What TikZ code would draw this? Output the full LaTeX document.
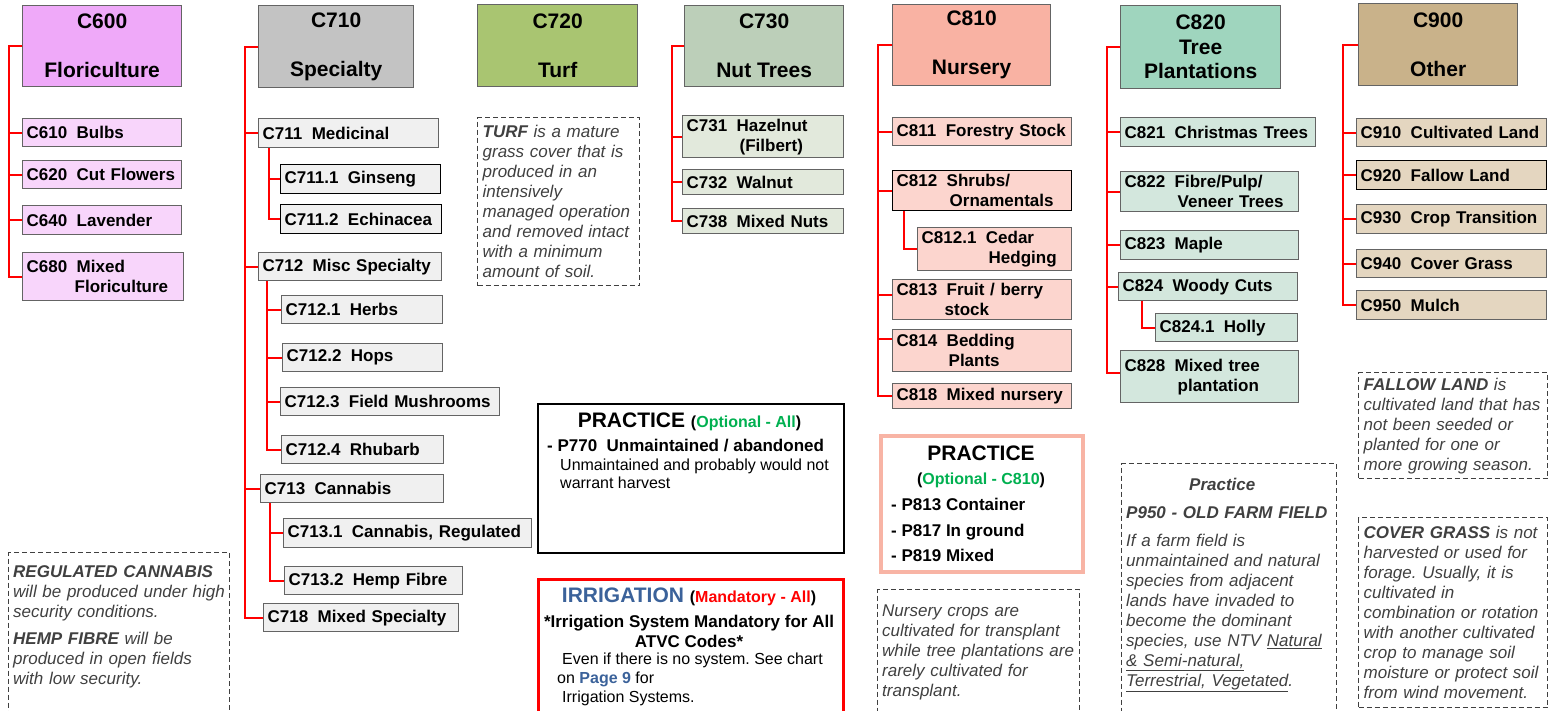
\documentclass[tikz,border=0pt]{standalone}
\usepackage{fontspec}
\setmainfont{Liberation Sans}
\usepackage{tikz}
\usetikzlibrary{calc}
\frenchspacing

\definecolor{hdA}{RGB}{239,169,249}
\definecolor{sbA}{RGB}{248,213,251}
\definecolor{hdB}{RGB}{195,195,195}
\definecolor{sbB}{RGB}{240,240,240}
\definecolor{hdC}{RGB}{169,197,113}
\definecolor{hdD}{RGB}{188,207,185}
\definecolor{sbD}{RGB}{226,233,220}
\definecolor{hdE}{RGB}{249,178,163}
\definecolor{sbE}{RGB}{252,213,206}
\definecolor{hdF}{RGB}{159,213,190}
\definecolor{sbF}{RGB}{211,231,221}
\definecolor{hdG}{RGB}{201,178,138}
\definecolor{sbG}{RGB}{228,214,192}
\definecolor{optgreen}{RGB}{0,176,80}
\definecolor{irrblue}{RGB}{59,98,154}
\definecolor{notegray}{RGB}{64,64,64}
\definecolor{boxgray}{RGB}{100,100,100}
\definecolor{salmon}{RGB}{248,180,165}

\newcommand{\hdf}{\fontsize{21}{24.5}\selectfont\bfseries}
\newcommand{\lbf}{\fontsize{17}{20}\selectfont\bfseries}
\newcommand{\ntf}{\fontsize{17}{20}\selectfont\itshape}
\newcommand{\smf}{\fontsize{16}{19}\selectfont}
\newcommand{\gp}{\hspace{0.556em}}

\begin{document}
\begin{tikzpicture}[x=1pt,y=-1pt,
  hdr/.style={draw=boxgray,line width=1.3pt,anchor=north west,align=center,font=\hdf,inner sep=0pt},
  sub/.style={draw=boxgray,line width=1.3pt,anchor=north west,align=left,font=\lbf,inner xsep=4pt,inner ysep=0pt},
  link/.style={draw=red,line width=2pt},
  dbox/.style={draw=notegray,dash pattern=on 5pt off 3pt,line width=1.3pt,anchor=north west,inner sep=0pt},
  note/.style={dbox,align=left,font=\ntf,text=notegray,inner xsep=5pt,inner ysep=0pt},
  ntxt/.style={inner sep=0pt,anchor=north west,align=left,font=\ntf,text=notegray},
  panel/.style={anchor=north west,inner sep=0pt},
  txt/.style={inner sep=0pt,anchor=base},
  txtl/.style={inner sep=0pt,anchor=base west}]

  \useasboundingbox (0,0) rectangle (1552,711);

  \node[hdr,fill=hdA,minimum width=159,minimum height=81] (c600) at (22,5) {C600\\[24.5pt]Floriculture};
  \node[sub,fill=sbA,text width=151pt,minimum height=28] (c610) at (22,118) {C610\gp Bulbs};
  \node[sub,fill=sbA,text width=151pt,minimum height=28] (c620) at (22,160) {C620\gp Cut Flowers};
  \node[sub,fill=sbA,text width=151pt,minimum height=29] (c640) at (22,205) {C640\gp Lavender};
  \node[sub,fill=sbA,text width=153pt,minimum height=48] (c680) at (22,252) {C680\gp Mixed\\\hspace*{48pt}Floriculture};

  \node[hdr,fill=hdB,minimum width=155,minimum height=82] (c710) at (258,5) {C710\\[24.5pt]Specialty};
  \node[sub,fill=sbB,text width=172pt,minimum height=29] (c711) at (258,118) {C711\gp Medicinal};
  \node[sub,fill=sbB,draw=black,text width=152pt,minimum height=29] (c7111) at (280,164) {C711.1\gp Ginseng};
  \node[sub,fill=sbB,draw=black,text width=153pt,minimum height=29] (c7112) at (280,204) {C711.2\gp Echinacea};
  \node[sub,fill=sbB,text width=175pt,minimum height=28] (c712) at (258,252) {C712\gp Misc Specialty};
  \node[sub,fill=sbB,text width=153pt,minimum height=28] (c7121) at (281,295) {C712.1\gp Herbs};
  \node[sub,fill=sbB,text width=152pt,minimum height=28] (c7122) at (282,343) {C712.2\gp Hops};
  \node[sub,fill=sbB,text width=211pt,minimum height=28] (c7123) at (280,387) {C712.3\gp Field Mushrooms};
  \node[sub,fill=sbB,text width=154pt,minimum height=28] (c7124) at (281,435) {C712.4\gp Rhubarb};
  \node[sub,fill=sbB,text width=175pt,minimum height=28] (c713) at (260,474) {C713\gp Cannabis};
  \node[sub,fill=sbB,text width=240pt,minimum height=29] (c7131) at (283,518) {C713.1\gp Cannabis, Regulated};
  \node[sub,fill=sbB,text width=170pt,minimum height=28] (c7132) at (284,566) {C713.2\gp Hemp Fibre};
  \node[sub,fill=sbB,text width=187pt,minimum height=28] (c718) at (263,603) {C718\gp Mixed Specialty};

  \node[hdr,fill=hdC,minimum width=160,minimum height=82] (c720) at (477,4) {C720\\[24.5pt]Turf};
  \node[note,text width=152pt,minimum height=168] (turf) at (477,117)
    {\textbf{TURF} is a mature\\grass cover that is\\produced in an\\intensively\\managed operation\\and removed intact\\with a minimum\\amount of soil.};

  \node[hdr,fill=hdD,minimum width=159,minimum height=81] (c730) at (684,5) {C730\\[24.5pt]Nut Trees};
  \node[sub,fill=sbD,text width=153pt,minimum height=42] (c731) at (682,115) {C731\gp Hazelnut\\\hspace*{53pt}(Filbert)};
  \node[sub,fill=sbD,text width=153pt,minimum height=25] (c732) at (682,169) {C732\gp Walnut};
  \node[sub,fill=sbD,text width=153pt,minimum height=25] (c738) at (682,208) {C738\gp Mixed Nuts};

  \node[hdr,fill=hdE,minimum width=158,minimum height=81] (c810) at (892,4) {C810\\[24.5pt]Nursery};
  \node[sub,fill=sbE,text width=171pt,minimum height=28] (c811) at (892,117) {C811\gp Forestry Stock};
  \node[sub,fill=sbE,draw=black,text width=171pt,minimum height=40] (c812) at (892,170) {C812\gp Shrubs/\\\hspace*{53pt}Ornamentals};
  \node[sub,fill=sbE,text width=146pt,minimum height=43] (c8121) at (917,227) {C812.1\gp Cedar\\\hspace*{67pt}Hedging};
  \node[sub,fill=sbE,text width=171pt,minimum height=40] (c813) at (892,279) {C813\gp Fruit / berry\\\hspace*{48pt}stock};
  \node[sub,fill=sbE,text width=171pt,minimum height=42] (c814) at (892,329) {C814\gp Bedding\\\hspace*{52pt}Plants};
  \node[sub,fill=sbE,text width=171pt,minimum height=25] (c818) at (892,383) {C818\gp Mixed nursery};

  \node[hdr,fill=hdF,minimum width=160,minimum height=83] (c820) at (1120,5) {C820\\Tree\\Plantations};
  \node[sub,fill=sbF,text width=187pt,minimum height=29] (c821) at (1120,117) {C821\gp Christmas Trees};
  \node[sub,fill=sbF,text width=170pt,minimum height=40] (c822) at (1120,171) {C822\gp Fibre/Pulp/\\\hspace*{53pt}Veneer Trees};
  \node[sub,fill=sbF,text width=170pt,minimum height=29] (c823) at (1120,230) {C823\gp Maple};
  \node[sub,fill=sbF,text width=171pt,minimum height=28] (c824) at (1118,272) {C824\gp Woody Cuts};
  \node[sub,fill=sbF,text width=134pt,minimum height=28] (c8241) at (1155,313) {C824.1\gp Holly};
  \node[sub,fill=sbF,text width=170pt,minimum height=52] (c828) at (1120,350) {C828\gp Mixed tree\\\hspace*{53pt}plantation};

  \node[hdr,fill=hdG,minimum width=159,minimum height=82] (c900) at (1358,3) {C900\\[24.5pt]Other};
  \node[sub,fill=sbG,text width=182pt,minimum height=28] (c910) at (1356,118) {C910\gp Cultivated Land};
  \node[sub,fill=sbG,draw=black,text width=182pt,minimum height=29] (c920) at (1356,160) {C920\gp Fallow Land};
  \node[sub,fill=sbG,text width=182pt,minimum height=29] (c930) at (1356,204) {C930\gp Crop Transition};
  \node[sub,fill=sbG,text width=182pt,minimum height=28] (c940) at (1356,249) {C940\gp Cover Grass};
  \node[sub,fill=sbG,text width=182pt,minimum height=29] (c950) at (1356,290) {C950\gp Mulch};

  \foreach \c in {c610,c620,c640,c680}
    \draw[link] (c600.west) -- ++(-13,0) |- (\c.west);
  \foreach \c in {c711,c712,c713,c718}
    \draw[link] (c710.west) -- ++(-13,0) |- (\c.west);
  \foreach \c in {c7111,c7112}
    \draw[link] ([xshift=11pt]c711.south west) |- (\c.west);
  \foreach \c in {c7121,c7122,c7123,c7124}
    \draw[link] ([xshift=9pt]c712.south west) |- (\c.west);
  \foreach \c in {c7131,c7132}
    \draw[link] ([xshift=10pt]c713.south west) |- (\c.west);
  \foreach \c in {c731,c732,c738}
    \draw[link] (c730.west) -- ++(-12,0) |- (\c.west);
  \foreach \c in {c811,c812,c818}
    \draw[link] (c810.west) -- ++(-14,0) |- (\c.west);
  \draw[link] (c810.west) -- ++(-14,0) |- ([yshift=5pt]c813.west);
  \draw[link] (c810.west) -- ++(-14,0) |- ([yshift=12pt]c814.west);
  \draw[link] ([xshift=12pt]c812.south west) |- (c8121.west);
  \foreach \c in {c821,c822,c823,c824}
    \draw[link] (c820.west) -- ++(-13,0) |- (\c.west);
  \draw[link] (c820.west) -- ++(-13,0) |- ([yshift=4pt]c828.west);
  \draw[link] ([xshift=24pt]c824.south west) |- (c8241.west);
  \foreach \c in {c910,c920,c930,c940,c950}
    \draw[link] (c900.west) -- ++(-15,0) |- (\c.west);

  \node[dbox,minimum width=221,minimum height=200] (regbox) at (8,552) {};
  \node[ntxt,text width=230pt] (regtxt) at (13,565)
    {\textbf{REGULATED CANNABIS}\\will be produced under high\\security conditions.\\[7pt]\textbf{HEMP FIBRE} will be\\produced in open fields\\with low security.};

  \node[panel,draw=black,line width=2pt,minimum width=306,minimum height=149] (prac) at (537,403) {};
  \node[txt,font=\hdf] (pracH) at (689.5,427) {PRACTICE {\smf\bfseries(\textcolor{optgreen}{Optional - All})}};
  \node[txtl,font=\lbf] (pracA) at (547,451) {- P770\gp Unmaintained / abandoned};
  \node[txtl,font=\smf] (pracB) at (560,470) {Unmaintained and probably would not};
  \node[txtl,font=\smf] (pracC) at (560,488) {warrant harvest};

  \node[panel,draw=red,line width=3pt,minimum width=305,minimum height=150] (irr) at (536.5,577.5) {};
  \node[txt,font=\hdf] (irrH) at (689,602) {\textcolor{irrblue}{IRRIGATION} {\smf\bfseries(\textcolor{red}{Mandatory - All})}};
  \node[txt,font=\lbf] (irrA) at (689,627) {*Irrigation System Mandatory for All};
  \node[txt,font=\lbf] (irrB) at (689,647) {ATVC Codes*};
  \node[txtl,font=\smf] (irrC) at (562,664) {Even if there is no system. See chart};
  \node[txtl,font=\smf] (irrD) at (557,683) {on \textcolor{irrblue}{\bfseries Page 9} for};
  \node[txtl,font=\smf] (irrE) at (562,702) {Irrigation Systems.};

  \node[panel,draw=salmon,line width=4pt,minimum width=202,minimum height=136] (p810) at (879,434) {};
  \node[txt,font=\hdf] (p810H) at (981,460) {PRACTICE};
  \node[txt,font=\smf\bfseries] (p810S) at (981,484) {(\textcolor{optgreen}{Optional - C810})};
  \node[txtl,font=\lbf] (p813) at (891,510) {- P813 Container};
  \node[txtl,font=\lbf] (p817) at (891,536) {- P817 In ground};
  \node[txtl,font=\lbf] (p819) at (891,561) {- P819 Mixed};

  \node[dbox,minimum width=202,minimum height=150] (nurbox) at (877,589) {};
  \node[ntxt,text width=200pt] (nurtxt) at (882,605)
    {Nursery crops are\\cultivated for transplant\\while tree plantations are\\rarely cultivated for\\transplant.};

  \node[dbox,minimum width=215,minimum height=270] (p950box) at (1121,463) {};
  \node[ntxt,text width=210pt] (p950txt) at (1126,478)
    {\hspace*{63pt}\textbf{Practice}\\[8pt]\textbf{P950 - OLD FARM FIELD}\\[8pt]If a farm field is\\unmaintained and natural\\species from adjacent\\lands have invaded to\\become the dominant\\species, use NTV \underline{Natural}\\\underline{\& Semi-natural,}\\\underline{Terrestrial, Vegetated}.};

  \node[note,text width=179pt,minimum height=106] (fallow) at (1358,372)
    {\textbf{FALLOW LAND} is\\cultivated land that has\\not been seeded or\\planted for one or\\more growing season.};
  \node[note,text width=179pt,minimum height=190] (cover) at (1358,517)
    {\textbf{COVER GRASS} is not\\harvested or used for\\forage. Usually, it is\\cultivated in\\combination or rotation\\with another cultivated\\crop to manage soil\\moisture or protect soil\\from wind movement.};
\end{tikzpicture}
\end{document}
